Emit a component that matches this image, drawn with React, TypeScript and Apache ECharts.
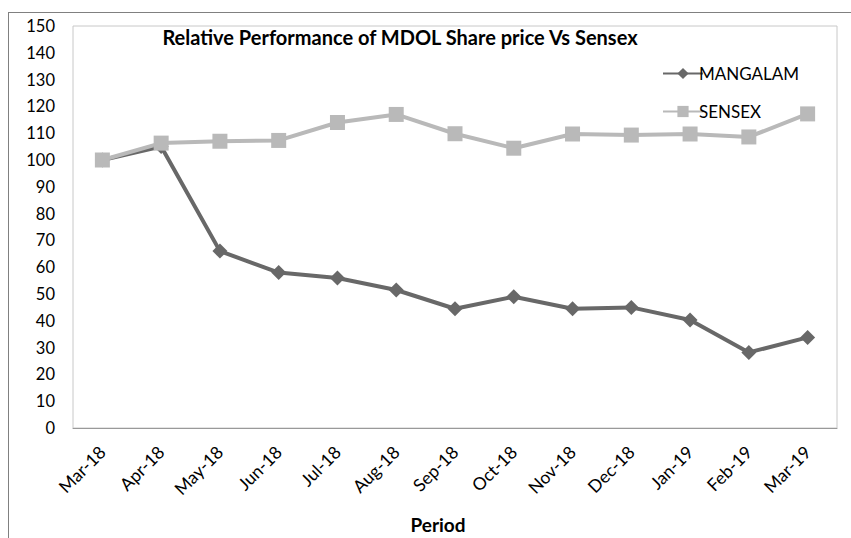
import React, { useEffect, useRef } from "react";
import * as echarts from "echarts";

const categories = ["Mar-18","Apr-18","May-18","Jun-18","Jul-18","Aug-18","Sep-18","Oct-18","Nov-18","Dec-18","Jan-19","Feb-19","Mar-19"];
const mangalam = [100, 105, 66, 58, 56, 51.5, 44.5, 49, 44.5, 45, 40.3, 28.2, 33.8];
const sensex = [100, 106.3, 107, 107.3, 114, 117, 109.8, 104.4, 109.7, 109.3, 109.7, 108.6, 117.2];
const titleText = "Relative Performance of MDOL Share price Vs Sensex";
const xAxisTitle = "Period";

const FONT = "Lato, 'Noto Sans', sans-serif";

export default function App() {
  const ref = useRef<HTMLDivElement>(null);
  useEffect(() => {
    document.body.style.margin = "0";
    const chart = echarts.init(ref.current!, null, { renderer: "svg" });
    chart.setOption({
      animation: false,
      backgroundColor: "#fff",
      textStyle: { fontFamily: FONT },
      grid: { left: 73, right: 14, top: 26, bottom: 110, show: true, borderColor: "#c8c8c8", borderWidth: 1 },
      xAxis: {
        type: "category",
        data: categories,
        boundaryGap: true,
        axisLine: { show: true, lineStyle: { color: "#999", width: 1 } },
        axisTick: { show: false },
        axisLabel: { rotate: 45, fontSize: 17.5, color: "#000", fontFamily: FONT, margin: 21 },
      },
      yAxis: {
        type: "value",
        min: 0,
        max: 150,
        interval: 10,
        splitLine: { show: false },
        axisLine: { show: false },
        axisTick: { show: false },
        axisLabel: { fontSize: 16.5, color: "#000", fontFamily: FONT, margin: 18 },
      },
      legend: {
        orient: "vertical",
        left: 657,
        top: 60,
        itemGap: 21,
        itemWidth: 40,
        itemHeight: 14,
        textStyle: { fontSize: 17, color: "#000", fontFamily: FONT, padding: [0, 0, 0, -9] },
        data: ["MANGALAM", "SENSEX"],
      },
      graphic: [
        { type: "line", shape: { x1: 8, y1: 12.5, x2: 851, y2: 12.5 }, style: { stroke: "#808080", lineWidth: 1 } },
        { type: "line", shape: { x1: 8.5, y1: 12, x2: 8.5, y2: 538 }, style: { stroke: "#808080", lineWidth: 1 } },
        { type: "text", style: { text: titleText, x: 400, y: 37, align: "center", verticalAlign: "middle", fill: "#000", font: "bold 20px " + FONT } },
        { type: "text", style: { text: xAxisTitle, x: 438, y: 524, align: "center", verticalAlign: "middle", fill: "#000", font: "bold 19px " + FONT } },
      ],
      series: [
        {
          name: "MANGALAM",
          type: "line",
          data: mangalam,
          symbol: "diamond",
          symbolSize: 15,
          itemStyle: { color: "#686868" },
          lineStyle: { color: "#686868", width: 4 },
        },
        {
          name: "SENSEX",
          type: "line",
          data: sensex,
          symbol: "rect",
          symbolSize: 15,
          itemStyle: { color: "#b9b9b9" },
          lineStyle: { color: "#b9b9b9", width: 4 },
        },
      ],
    });
    return () => chart.dispose();
  }, []);
  return <div ref={ref} style={{ width: 851, height: 538 }} />;
}
